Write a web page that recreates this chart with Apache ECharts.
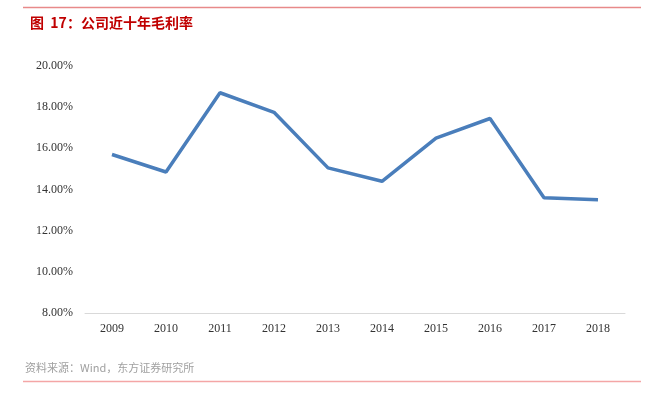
<!DOCTYPE html>
<html>
<head>
<meta charset="utf-8">
<script src="https://cdn.jsdelivr.net/npm/echarts@6/dist/echarts.min.js"></script>
<style>
html,body{margin:0;padding:0;background:#fff;}
#chart{width:656px;height:397px;}
</style>
</head>
<body>
<div id="chart"></div>
<script>
// 年份
const years = ['2009','2010','2011','2012','2013','2014','2015','2016','2017','2018']
// 毛利率 (%)
const grossMargin = [15.7, 14.85, 18.7, 17.75, 15.05, 14.4, 16.5, 17.45, 13.6, 13.5]

let myChart = echarts.init(document.getElementById('chart'))
let options = {
  animation: false,
  title: {
    text: '图  17：公司近十年毛利率',
    left: 25,
    top: 11,
    textStyle: {
      fontFamily: 'Noto Sans CJK SC',
      fontSize: 14,
      fontWeight: 'bold',
      color: '#c00000'
    }
  },
  graphic: [
    {
      type: 'line',
      shape: { x1: 23, y1: 7.5, x2: 641, y2: 7.5 },
      style: { stroke: '#e88a8a', lineWidth: 1.5 }
    },
    {
      type: 'line',
      shape: { x1: 23, y1: 381.5, x2: 641, y2: 381.5 },
      style: { stroke: '#f4a6a6', lineWidth: 1.5 }
    },
    {
      type: 'text',
      left: 25,
      top: 362,
      style: {
        text: '资料来源：Wind，东方证券研究所',
        fontFamily: 'Noto Sans CJK SC',
        fontSize: 11,
        fill: '#a0a0a0'
      }
    }
  ],
  grid: {
    left: 85,
    right: 31,
    top: 66,
    bottom: 84
  },
  xAxis: {
    type: 'category',
    data: years,
    boundaryGap: true,
    axisLine: { lineStyle: { color: '#d9d9d9', width: 1 } },
    axisTick: { show: false },
    axisLabel: {
      fontFamily: 'Liberation Serif',
      fontSize: 12,
      color: '#333',
      margin: 10
    }
  },
  yAxis: {
    type: 'value',
    min: 8,
    max: 20,
    interval: 2,
    splitLine: { show: false },
    axisLine: { show: false },
    axisTick: { show: false },
    axisLabel: {
      fontFamily: 'Liberation Serif',
      fontSize: 12,
      color: '#333',
      margin: 12,
      formatter: (v) => v.toFixed(2) + '%'
    }
  },
  series: [
    {
      type: 'line',
      data: grossMargin,
      symbol: 'none',
      lineStyle: { color: '#4a7ebb', width: 3.5 },
      itemStyle: { color: '#4a7ebb' }
    }
  ]
}
myChart.setOption(options)
</script>
</body>
</html>
